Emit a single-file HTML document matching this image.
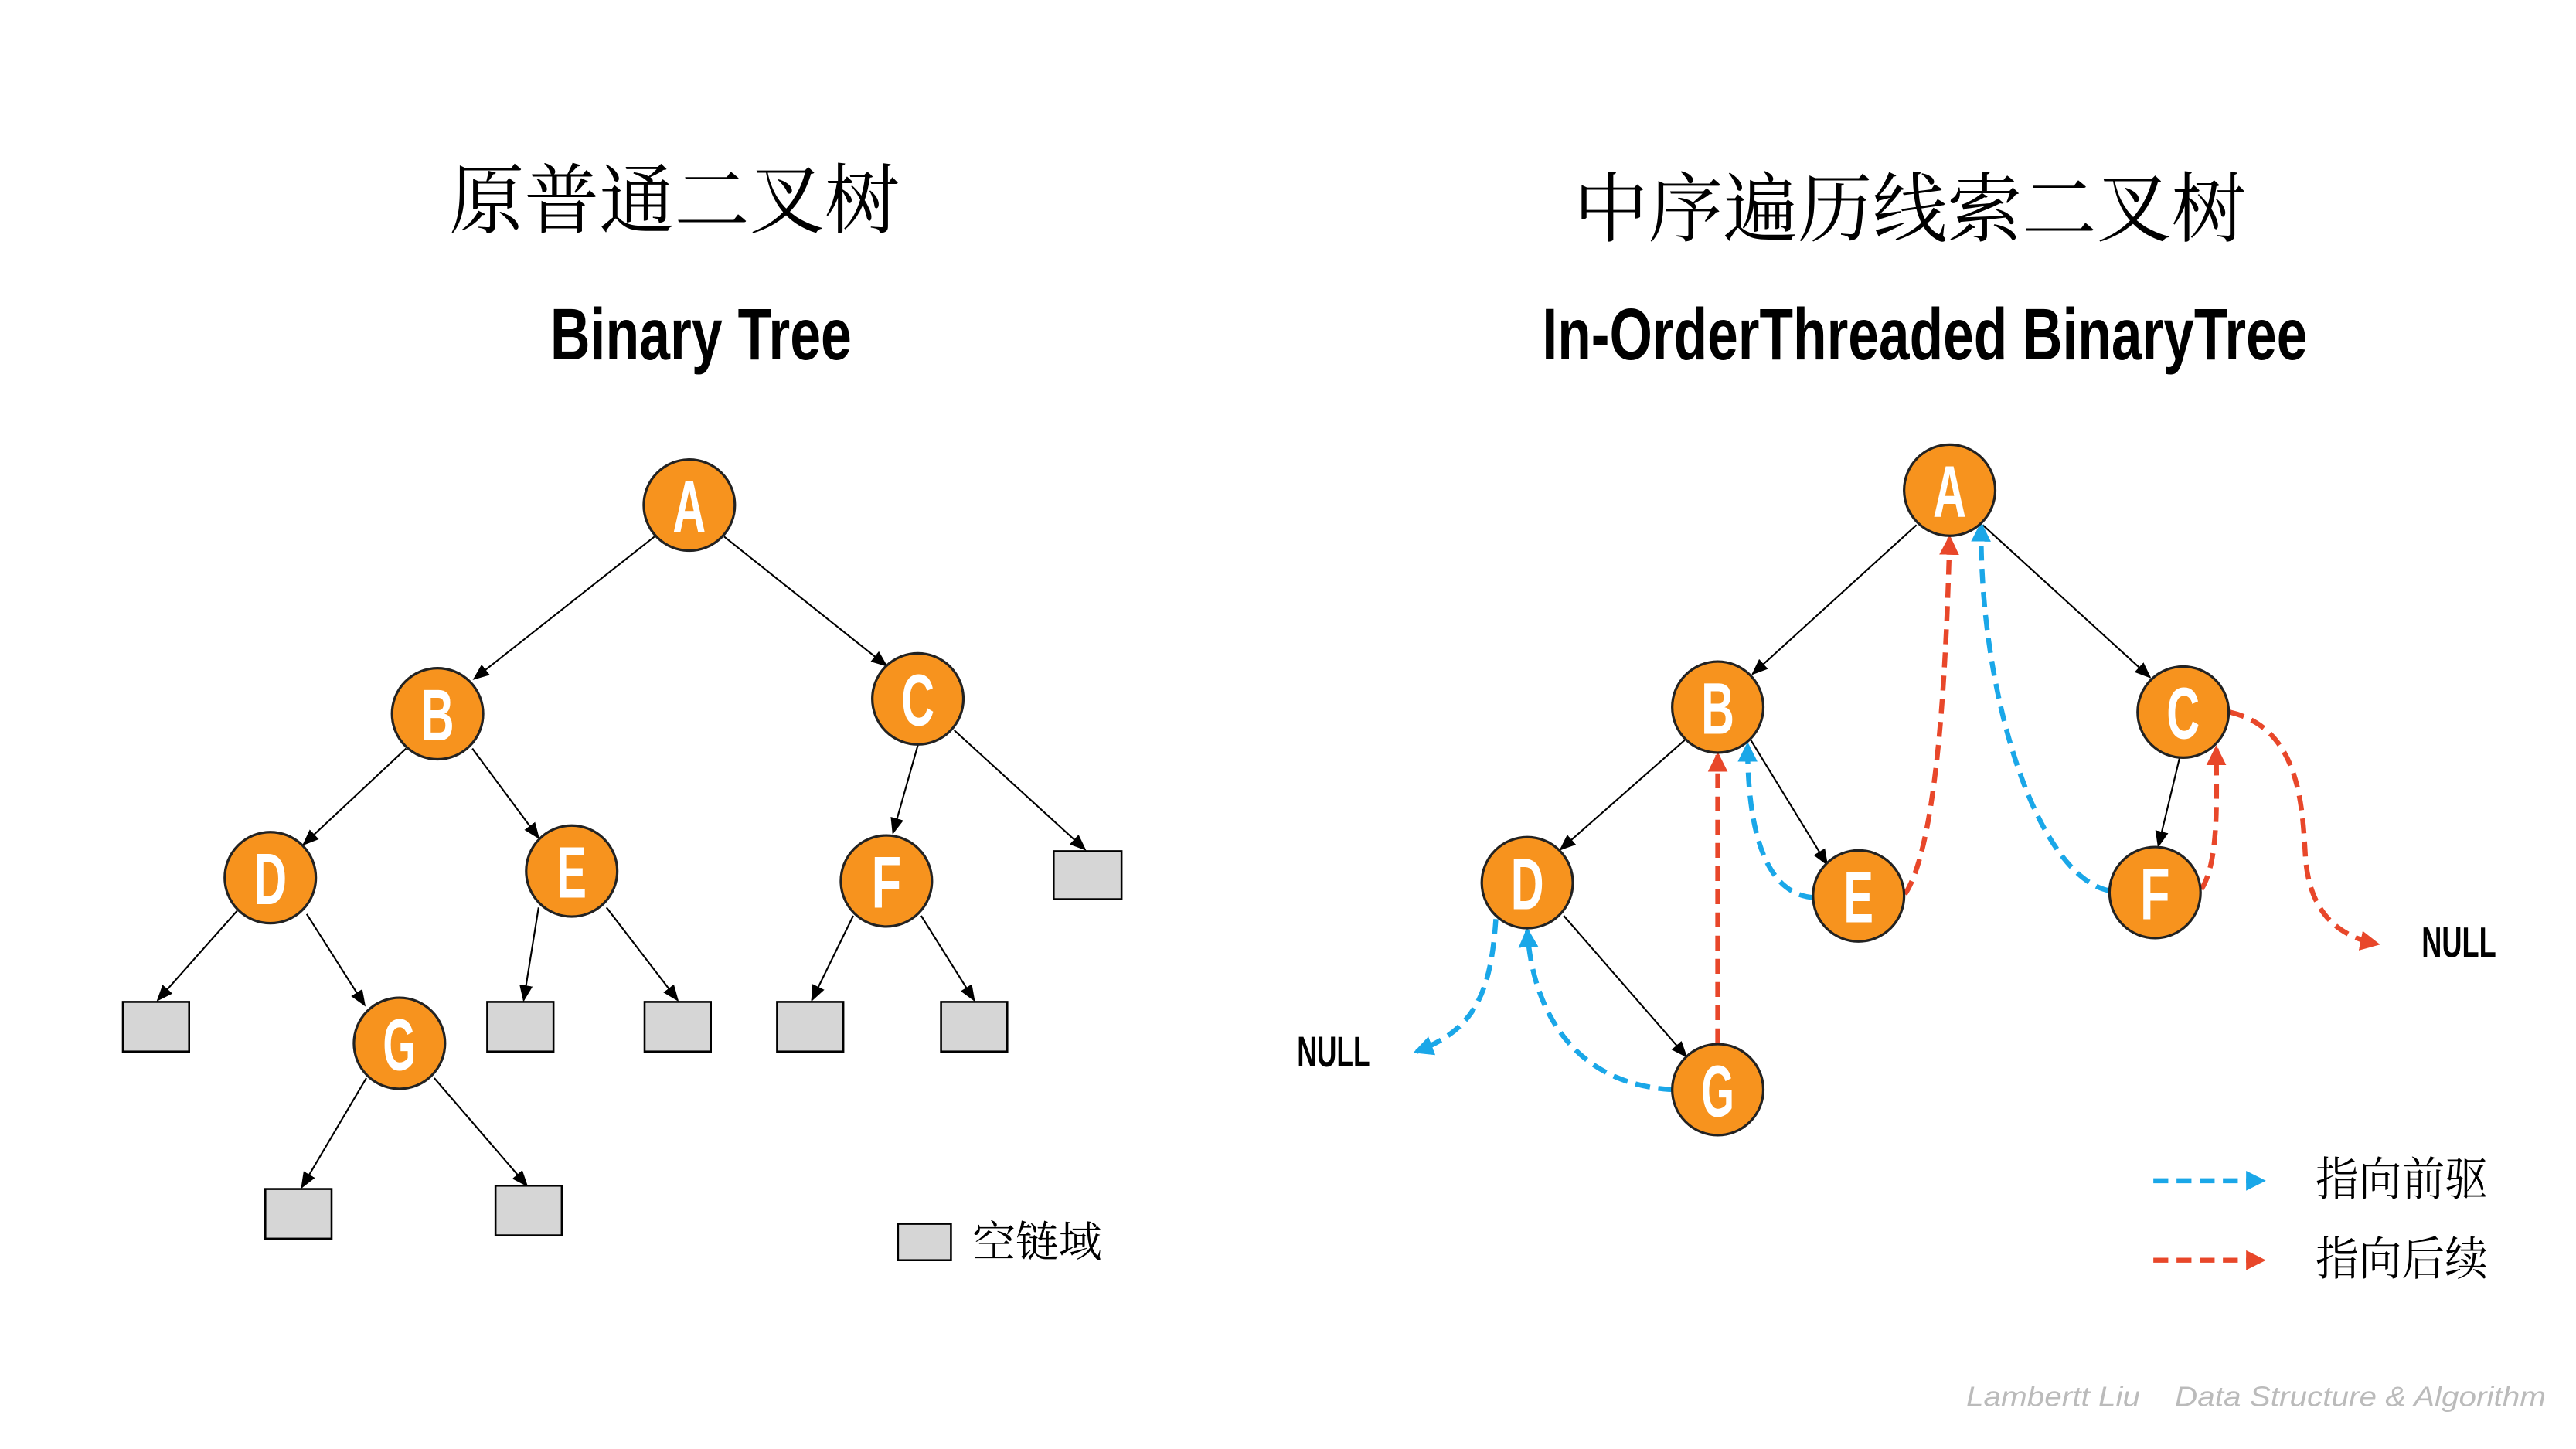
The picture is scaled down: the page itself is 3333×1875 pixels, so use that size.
<!DOCTYPE html>
<html><head><meta charset="utf-8"><style>html,body{margin:0;padding:0;background:#fff}svg{display:block}</style></head>
<body>
<svg width="3333" height="1875" viewBox="0 0 1555 875" xmlns="http://www.w3.org/2000/svg">
<defs>
<marker id="ak" markerWidth="10" markerHeight="10" refX="9" refY="5" orient="auto" markerUnits="userSpaceOnUse"><path d="M0,1 L10,5 L0,9 z" fill="#000"/></marker>
<marker id="ab" markerWidth="14" markerHeight="14" refX="10" refY="7" orient="auto" markerUnits="userSpaceOnUse"><path d="M0,1 L12,7 L0,13 z" fill="#1AA7E8"/></marker>
<marker id="ar" markerWidth="14" markerHeight="14" refX="10" refY="7" orient="auto" markerUnits="userSpaceOnUse"><path d="M0,1 L12,7 L0,13 z" fill="#E8472A"/></marker>
</defs>
<g font-family="'Liberation Serif','Noto Serif CJK SC',serif" font-size="46" text-anchor="middle" fill="#000">
<text x="407" y="137" textLength="272" lengthAdjust="spacingAndGlyphs">原普通二叉树</text>
<text x="1153" y="142" textLength="406" lengthAdjust="spacingAndGlyphs">中序遍历线索二叉树</text>
</g>
<g font-family="'Liberation Sans Narrow','Liberation Sans',sans-serif" font-weight="bold" font-size="44" fill="#000">
<text x="332" y="217" textLength="182" lengthAdjust="spacingAndGlyphs">Binary Tree</text>
<text x="931" y="217" textLength="462" lengthAdjust="spacingAndGlyphs">In-OrderThreaded BinaryTree</text>
<text x="783" y="644" font-size="26" textLength="44" lengthAdjust="spacingAndGlyphs">NULL</text>
<text x="1462" y="578" font-size="26" textLength="45" lengthAdjust="spacingAndGlyphs">NULL</text>
</g>
<g stroke="#000" stroke-width="1" marker-end="url(#ak)">
<line x1="395" y1="324" x2="286" y2="410"/><line x1="437" y1="324" x2="535" y2="402"/>
<line x1="245" y1="452" x2="183" y2="510"/><line x1="285" y1="452" x2="325" y2="506"/>
<line x1="554" y1="450" x2="539" y2="503"/><line x1="576" y1="441" x2="655" y2="513"/>
<line x1="143" y1="550" x2="95" y2="604"/><line x1="185" y1="552" x2="220" y2="607"/>
<line x1="325" y1="548" x2="316" y2="604"/><line x1="366" y1="548" x2="409" y2="604"/>
<line x1="515" y1="553" x2="490" y2="604"/><line x1="556" y1="553" x2="588" y2="604"/>
<line x1="221" y1="651" x2="182" y2="717"/><line x1="262" y1="651" x2="318" y2="716"/>
<line x1="1157" y1="317" x2="1058" y2="407"/><line x1="1197" y1="317" x2="1298" y2="409"/>
<line x1="1017" y1="447" x2="942" y2="513"/><line x1="1057" y1="447" x2="1103" y2="522"/>
<line x1="1316" y1="457" x2="1303" y2="511"/><line x1="944" y1="553" x2="1018" y2="638"/>
</g>
<g fill="#D6D6D6" stroke="#000" stroke-width="1.2">
<rect x="74" y="605" width="40" height="30"/><rect x="294" y="605" width="40" height="30"/>
<rect x="389" y="605" width="40" height="30"/><rect x="469" y="605" width="40" height="30"/>
<rect x="568" y="605" width="40" height="30"/><rect x="636" y="514" width="41" height="29"/>
<rect x="160" y="718" width="40" height="30"/><rect x="299" y="716" width="40" height="30"/>
<rect x="542" y="739" width="32" height="22"/>
</g>
<text x="587" y="759" font-family="'Liberation Serif','Noto Serif CJK SC',serif" font-size="26" textLength="78" lengthAdjust="spacingAndGlyphs">空链域</text>
<g fill="none" stroke-width="3" stroke-dasharray="9,5">
<path d="M1095,542 C1065,540 1055,500 1055,450" stroke="#1AA7E8" marker-end="url(#ab)"/>
<path d="M1274,538 C1230,530 1195,420 1196,317" stroke="#1AA7E8" marker-end="url(#ab)"/>
<path d="M903,555 C900,600 890,622 855,635" stroke="#1AA7E8" marker-end="url(#ab)"/>
<path d="M1010,658 C950,655 925,610 922,562" stroke="#1AA7E8" marker-end="url(#ab)"/>
<path d="M1150,540 C1170,510 1175,400 1177,325" stroke="#E8472A" marker-end="url(#ar)"/>
<path d="M1329,537 C1340,520 1338,480 1338,452" stroke="#E8472A" marker-end="url(#ar)"/>
<path d="M1346,430 C1390,440 1390,490 1392,520 C1395,550 1410,565 1435,570" stroke="#E8472A" marker-end="url(#ar)"/>
<path d="M1037,630 L1037,456" stroke="#E8472A" marker-end="url(#ar)"/>
<path d="M1300,713 L1366,713" stroke="#1AA7E8" marker-end="url(#ab)"/>
<path d="M1300,761 L1366,761" stroke="#E8472A" marker-end="url(#ar)"/>
</g>
<g font-family="'Liberation Serif','Noto Serif CJK SC',serif" font-size="28">
<text x="1398" y="722" textLength="104" lengthAdjust="spacingAndGlyphs">指向前驱</text><text x="1398" y="770" textLength="104" lengthAdjust="spacingAndGlyphs">指向后续</text>
</g>
<g fill="#F7931E" stroke="#222" stroke-width="1.5">
<circle cx="416" cy="305" r="27.5"/><circle cx="264" cy="431" r="27.5"/><circle cx="554" cy="422" r="27.5"/>
<circle cx="163" cy="530" r="27.5"/><circle cx="345" cy="526" r="27.5"/><circle cx="535" cy="532" r="27.5"/>
<circle cx="241" cy="630" r="27.5"/>
<circle cx="1177" cy="296" r="27.5"/><circle cx="1037" cy="427" r="27.5"/><circle cx="1318" cy="430" r="27.5"/>
<circle cx="922" cy="533" r="27.5"/><circle cx="1122" cy="541" r="27.5"/><circle cx="1301" cy="539" r="27.5"/>
<circle cx="1037" cy="658" r="27.5"/>
</g>
<g font-family="'Liberation Sans Narrow','Liberation Sans',sans-serif" font-weight="bold" font-size="44" fill="#fff">
<text x="406" y="321" textLength="20" lengthAdjust="spacingAndGlyphs">A</text><text x="254" y="447" textLength="20" lengthAdjust="spacingAndGlyphs">B</text><text x="544" y="438" textLength="20" lengthAdjust="spacingAndGlyphs">C</text>
<text x="153" y="546" textLength="20" lengthAdjust="spacingAndGlyphs">D</text><text x="336" y="542" textLength="18" lengthAdjust="spacingAndGlyphs">E</text><text x="526" y="548" textLength="18" lengthAdjust="spacingAndGlyphs">F</text><text x="231" y="646" textLength="20" lengthAdjust="spacingAndGlyphs">G</text>
<text x="1167" y="312" textLength="20" lengthAdjust="spacingAndGlyphs">A</text><text x="1027" y="443" textLength="20" lengthAdjust="spacingAndGlyphs">B</text><text x="1308" y="446" textLength="20" lengthAdjust="spacingAndGlyphs">C</text>
<text x="912" y="549" textLength="20" lengthAdjust="spacingAndGlyphs">D</text><text x="1113" y="557" textLength="18" lengthAdjust="spacingAndGlyphs">E</text><text x="1292" y="555" textLength="18" lengthAdjust="spacingAndGlyphs">F</text><text x="1027" y="674" textLength="20" lengthAdjust="spacingAndGlyphs">G</text>
</g>
<text x="1187" y="849" font-family="'Liberation Sans Narrow','Liberation Sans',sans-serif" font-style="italic" font-size="17" fill="#bbb" textLength="350" lengthAdjust="spacingAndGlyphs" xml:space="preserve">Lambertt Liu    Data Structure &amp; Algorithm</text>
</svg>
</body></html>
